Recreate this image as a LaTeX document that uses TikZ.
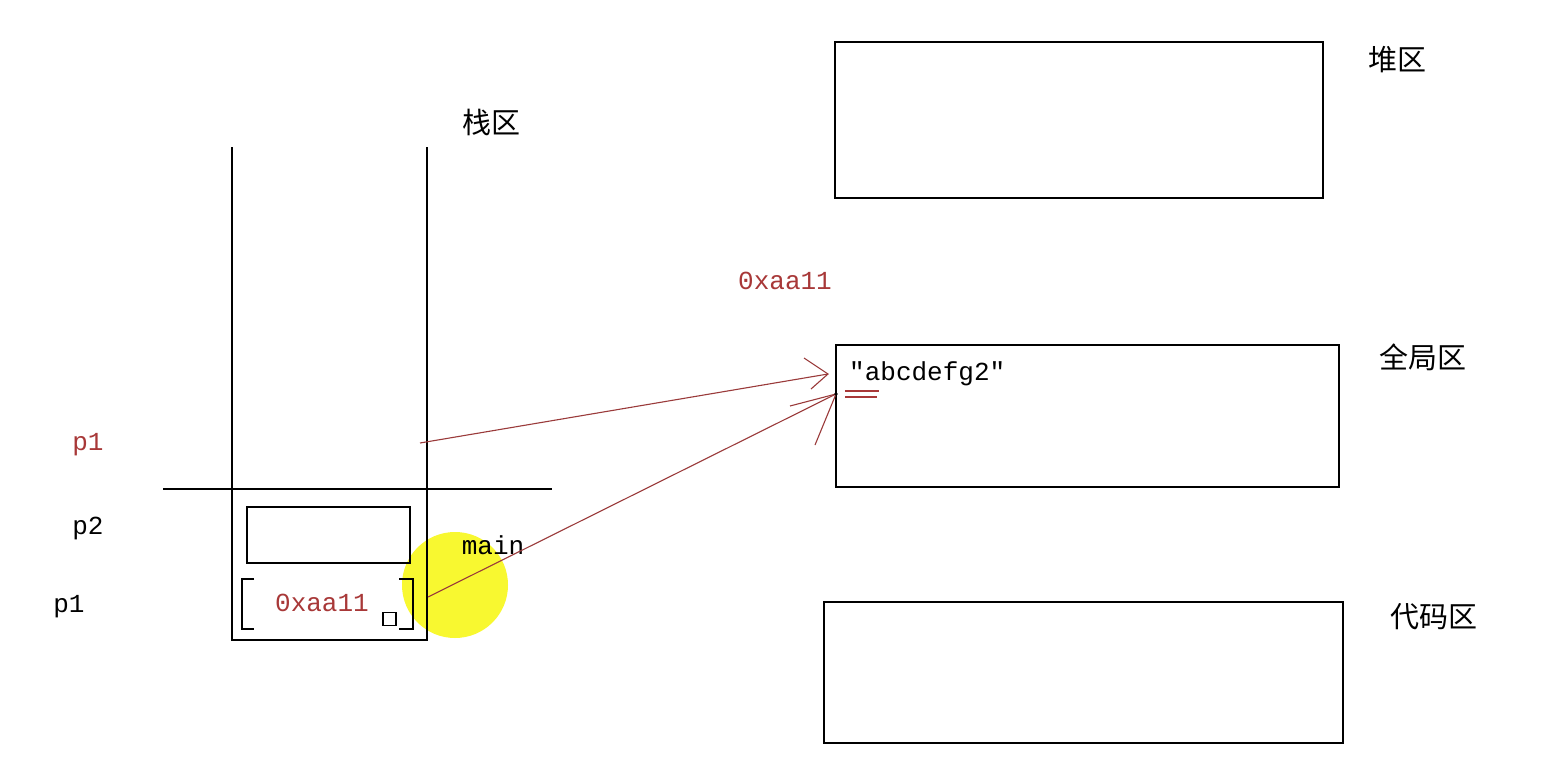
\documentclass[tikz,border=0pt]{standalone}
\usepackage{fontspec}
\setmonofont{Liberation Mono}
\newfontfamily\cjk{Noto Sans CJK SC}
\definecolor{myred}{HTML}{A83838}
\definecolor{arrred}{HTML}{9A3A3A}
\definecolor{myyellow}{HTML}{F8F830}
\tikzset{
  box/.style={draw=black, line width=1.3pt},
  lbl/.style={inner sep=0pt, font=\fontsize{26}{30}\selectfont\ttfamily},
  redlbl/.style={lbl, text=myred},
  cjklbl/.style={inner sep=0pt, font=\fontsize{29}{32}\selectfont\cjk},
  arr/.style={draw=arrred, line width=1.1pt},
}
\begin{document}
\begin{tikzpicture}[x=1pt,y=-1pt]
\useasboundingbox (0,0) rectangle (1558,784);
\fill[white] (0,0) rectangle (1558,784);
% yellow highlight
\fill[myyellow] (455,585) circle (53);
% stack
\coordinate (st1) at (232,147);
\coordinate (st2) at (427,147);
\draw[box] (st1) -- (232,640) -- (427,640) -- (st2);
\coordinate (hl) at (163,489);
\coordinate (hr) at (552,489);
\draw[box] (hl) -- (hr);
\node[box, minimum width=163, minimum height=56, inner sep=0pt] (p2box) at (328.5,535) {};
% brackets of p1
\draw[box] (254,579) -- (242,579) -- (242,629) -- (254,629);
\draw[box] (399,579) -- (413,579) -- (413,629) -- (399,629);
\node[box, minimum width=13, minimum height=13, inner sep=0pt] (sq) at (389.5,619) {};
\node[redlbl] (val) at (322,603) {0xaa11};
\node[lbl] (main) at (493,545) {main};
% labels
\node[redlbl] (p1r) at (88,445) {p1};
\node[lbl] (p2) at (88,528) {p2};
\node[lbl] (p1) at (69,607) {p1};
\node[cjklbl] (stk) at (491,122) {栈区};
% heap
\node[box, minimum width=488, minimum height=156, inner sep=0pt] (heap) at (1079,120) {};
\node[cjklbl] (heapl) at (1397,60) {堆区};
% global
\node[box, minimum width=503, minimum height=142, inner sep=0pt] (glob) at (1087.5,416) {};
\node[cjklbl] (globl) at (1423,357) {全局区};
% code
\node[box, minimum width=519, minimum height=141, inner sep=0pt] (code) at (1083.5,672.5) {};
\node[cjklbl] (codel) at (1434,617) {代码区};
% texts
\node[redlbl] (addr) at (785,281) {0xaa11};
\node[lbl, anchor=west] (str) at (849,374) {"abcdefg2"};
\draw[draw=myred, line width=1.2pt] (845,391) -- (879,391);
\draw[draw=myred, line width=1.2pt] (845,397) -- (877,397);
% arrows
\coordinate (a1s) at (420,443);
\coordinate (a1e) at (828,374);
\draw[arr] (a1s) -- (a1e);
\draw[arr] (804,358) -- (a1e) -- (811,389);
\coordinate (a2s) at (428,597);
\coordinate (a2e) at (836,394);
\draw[arr] (a2s) -- (a2e);
\draw[arr] (790,406) -- (a2e) -- (815,445);
\fill[black] (a2e) circle (1.8);
\end{tikzpicture}
\end{document}
